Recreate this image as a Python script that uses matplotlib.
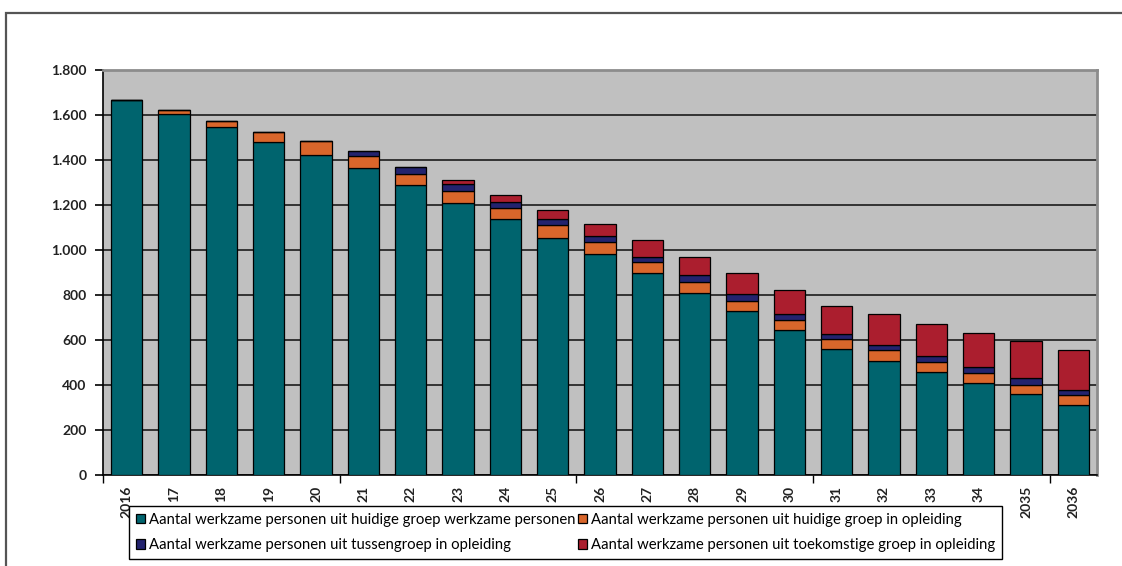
import matplotlib

matplotlib.use("Agg")

import matplotlib.pyplot as plt
import numpy as np
from matplotlib.patches import Rectangle

# values
years = ["2016", "17", "18", "19", "20", "21", "22", "23", "24", "25", "26",
         "27", "28", "29", "30", "31", "32", "33", "34", "2035", "2036"]
huidig_werkzaam = [1665, 1603, 1548, 1482, 1423, 1364, 1287, 1211, 1139, 1055, 984,
                   900, 810, 728, 645, 561, 505, 458, 411, 359, 311]
huidig_opleiding = [0, 20, 27, 44, 62, 53, 53, 53, 47, 54, 53,
                    47, 49, 47, 46, 43, 49, 44, 42, 41, 43]
tussengroep = [0, 0, 0, 0, 0, 21, 30, 29, 29, 30, 24,
               24, 28, 28, 23, 22, 25, 28, 26, 31, 23]
toekomstig = [0, 0, 0, 0, 0, 0, 0, 20, 31, 39, 54,
              72, 84, 96, 108, 125, 137, 143, 154, 164, 178]
series_labels = [
    "Aantal werkzame personen uit huidige groep werkzame personen",
    "Aantal werkzame personen uit huidige groep in opleiding",
    "Aantal werkzame personen uit tussengroep in opleiding",
    "Aantal werkzame personen uit toekomstige groep in opleiding",
]
y_ticks = [0, 200, 400, 600, 800, 1000, 1200, 1400, 1600, 1800]
y_tick_labels = ["0", "200", "400", "600", "800", "1.000", "1.200", "1.400", "1.600", "1.800"]

colors = ["#00646E", "#D9662B", "#23236E", "#AB1E2E"]

W, H = 1122, 566
fig = plt.figure(figsize=(W / 100, H / 100), dpi=100)
fig.patch.set_facecolor("white")

# outer chart frame
fig.patches.append(
    Rectangle((6 / W, -0.05), 1.2, 1 - 13 / H + 0.05, transform=fig.transFigure,
              fill=False, edgecolor="#555555", linewidth=1.6, zorder=0)
)

ax = fig.add_axes([103 / W, 1 - 475 / H, (1097 - 103) / W, (475 - 70) / H])
ax.set_facecolor("#C0C0C0")

x = np.arange(len(years))
series = [huidig_werkzaam, huidig_opleiding, tussengroep, toekomstig]
bottom = np.zeros(len(years))
handles = []
for vals, col, lab in zip(series, colors, series_labels):
    vals = np.array(vals, dtype=float)
    b = ax.bar(x, vals, width=0.66, bottom=bottom, color=col, edgecolor="black",
               linewidth=0.9, label=lab, zorder=3)
    handles.append(b)
    bottom += vals

ax.set_xlim(-0.5, len(years) - 0.5)
ax.set_ylim(0, 1800)
ax.set_yticks(y_ticks)
ax.set_yticklabels(y_tick_labels, fontfamily="Lato", fontweight="bold", fontsize=10,
                   color="#222222")
ax.yaxis.grid(True, color="#333333", linewidth=1.4, zorder=1)
ax.set_axisbelow(True)
ax.tick_params(axis="y", direction="out", length=6, width=1.2, color="black", pad=6)

# group ticks every 5 years, labels at bar centres
ax.set_xticks([-0.5, 4.5, 9.5, 14.5, 19.5])
ax.set_xticklabels([])
ax.tick_params(axis="x", which="major", direction="out", length=6, width=1.0, color="black")
ax.set_xticks(x, minor=True)
ax.set_xticklabels(years, minor=True, rotation=90, fontfamily="Lato", fontweight="bold",
                   fontsize=10, color="#222222")
ax.tick_params(axis="x", which="minor", length=0, pad=8)

for side in ["top", "right"]:
    ax.spines[side].set_color("#8C8C8C")
    ax.spines[side].set_linewidth(2.0)
ax.spines["left"].set_color("black")
ax.spines["left"].set_linewidth(1.2)
ax.spines["bottom"].set_color("black")
ax.spines["bottom"].set_linewidth(1.2)

order = [0, 2, 1, 3]
leg = fig.legend(
    [handles[i] for i in order],
    [series_labels[i] for i in order],
    ncol=2,
    loc="upper left",
    bbox_to_anchor=(129 / W, 1 - 506 / H),
    prop={"family": "Lato", "size": 10.7},
    frameon=True,
    fancybox=False,
    edgecolor="black",
    framealpha=1.0,
    borderpad=0.45,
    labelspacing=0.75,
    handlelength=0.65,
    handleheight=0.65,
    handletextpad=0.25,
    borderaxespad=0,
    columnspacing=0.15,
)
leg.get_frame().set_linewidth(1.0)
leg.set_zorder(10)

fig.savefig("out.png", dpi=100)
